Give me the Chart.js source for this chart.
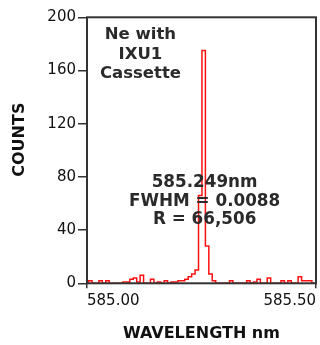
<!DOCTYPE html>
<html>
<head>
<meta charset="utf-8">
<script src="https://cdn.jsdelivr.net/npm/chart.js@4/dist/chart.umd.min.js"></script>
<style>
  html, body { margin: 0; padding: 0; background: #ffffff; }
  #c { display: block; }
</style>
</head>
<body>
<canvas id="c" width="320" height="345"></canvas>
<script>
// ---- data ----
const binEdges = [
  584.9960, 585.0035, 585.0110, 585.0185, 585.0260, 585.0335, 585.0410, 585.0485,
  585.0560, 585.0635, 585.0710, 585.0785, 585.0860, 585.0935, 585.1010, 585.1085,
  585.1160, 585.1235, 585.1310, 585.1385, 585.1460, 585.1535, 585.1610, 585.1685,
  585.1760, 585.1835, 585.1910, 585.1985, 585.2060, 585.2135, 585.2210, 585.2285,
  585.2360, 585.2435, 585.2510, 585.2585, 585.2660, 585.2735, 585.2810, 585.2885,
  585.2960, 585.3035, 585.3110, 585.3185, 585.3260, 585.3335, 585.3410, 585.3485,
  585.3560, 585.3635, 585.3710, 585.3785, 585.3860, 585.3935, 585.4010, 585.4085,
  585.4160, 585.4235, 585.4310, 585.4385, 585.4460, 585.4535, 585.4610, 585.4685,
  585.4760, 585.4835, 585.4910, 585.4985, 585.5060
];
const counts = [
  0, 2, 0, 0, 2, 0, 2, 0,
  0, 0, 0, 1, 1, 3, 4, 1,
  6, 0, 0, 3, 0, 1, 0, 2,
  0, 1, 1, 2, 2, 3, 5, 7,
  10, 66, 175, 28, 7, 2, 0, 0,
  0, 0, 2, 0, 0, 0, 0, 2,
  0, 1, 3, 0, 0, 4, 0, 0,
  0, 2, 0, 2, 0, 0, 5, 2,
  2, 2, 0, 0
];
const xTickValues = [585.00, 585.50];
const xTickLabels = ['585.00', '585.50'];
const yTickValues = [0, 40, 80, 120, 160, 200];
const yTickLabels = ['0', '40', '80', '120', '160', '200'];
const xTitle = 'WAVELENGTH nm';
const yTitle = 'COUNTS';
const noteSample = ['Ne with', 'IXU1', 'Cassette'];
const notePeak = ['585.249nm', 'FWHM = 0.0088', 'R = 66,506'];

// ---- build points for a stepped histogram outline ----
const points = counts.map((c, i) => ({ x: binEdges[i], y: c }));
points.push({ x: binEdges[binEdges.length - 1], y: counts[counts.length - 1] });

const FONT = '"DejaVu Sans", Verdana, sans-serif';

const framePlugin = {
  id: 'frameAndNotes',
  afterDatasetsDraw(chart) {
    const { ctx, chartArea: a, scales } = chart;
    ctx.save();
    ctx.strokeStyle = '#333333';
    ctx.lineWidth = 2;
    ctx.strokeRect(a.left, a.top, a.right - a.left, a.bottom - a.top);

    const notes = [
      { lines: noteSample, x: 585.1167, y: 187.0, size: 16.5, lh: 19.7 },
      { lines: notePeak, x: 585.2568, y: 75.8, size: 16.8, lh: 18.7 }
    ];
    ctx.fillStyle = '#2a2a2a';
    ctx.textAlign = 'center';
    ctx.textBaseline = 'middle';
    notes.forEach(n => {
      ctx.font = 'bold ' + n.size + 'px ' + FONT;
      const px = scales.x.getPixelForValue(n.x);
      const py = scales.y.getPixelForValue(n.y);
      n.lines.forEach((t, i) => ctx.fillText(t, px, py + i * n.lh));
    });

    // y axis title, drawn rotated
    ctx.fillStyle = '#111111';
    ctx.font = 'bold 16px ' + FONT;
    ctx.translate(19.5, scales.y.getPixelForValue(108));
    ctx.rotate(-Math.PI / 2);
    ctx.fillText(yTitle, 0, 0);
    ctx.restore();
  }
};

new Chart(document.getElementById('c').getContext('2d'), {
  type: 'line',
  data: {
    datasets: [{
      data: points,
      borderColor: '#ff1010',
      borderWidth: 1.5,
      stepped: 'before',
      pointRadius: 0,
      fill: false
    }]
  },
  options: {
    responsive: false,
    animation: false,
    devicePixelRatio: 1,
    layout: { padding: { top: 17.3, right: 3.5, left: 0, bottom: 0 } },
    plugins: { legend: { display: false }, tooltip: { enabled: false } },
    scales: {
      x: {
        type: 'linear',
        min: 585.0,
        max: 585.5,
        afterBuildTicks: s => { s.ticks = xTickValues.map(v => ({ value: v })); },
        afterFit: s => { s.height = 61.7; },
        ticks: {
          callback: (v, i) => xTickLabels[i],
          align: 'inner',
          autoSkip: false,
          maxRotation: 0,
          padding: 4,
          color: '#111111',
          font: { family: FONT, size: 15 }
        },
        grid: { drawOnChartArea: false, drawTicks: true, tickLength: 5, color: '#333333', lineWidth: 1.5 },
        border: { display: false },
        title: {
          display: true,
          text: xTitle,
          color: '#111111',
          font: { family: FONT, size: 16, weight: 'bold' },
          padding: { top: 0, bottom: 2 }
        }
      },
      y: {
        type: 'linear',
        min: 0,
        max: 200,
        afterBuildTicks: s => { s.ticks = yTickValues.map(v => ({ value: v })); },
        afterFit: s => { s.width = 87; },
        ticks: {
          callback: (v, i) => yTickLabels[i],
          autoSkip: false,
          padding: 2,
          color: '#111111',
          font: { family: FONT, size: 15 }
        },
        grid: { drawOnChartArea: false, drawTicks: true, tickLength: 9, color: '#333333', lineWidth: 1.5 },
        border: { display: false },
        title: { display: false }
      }
    }
  },
  plugins: [framePlugin]
});
</script>
</body>
</html>
